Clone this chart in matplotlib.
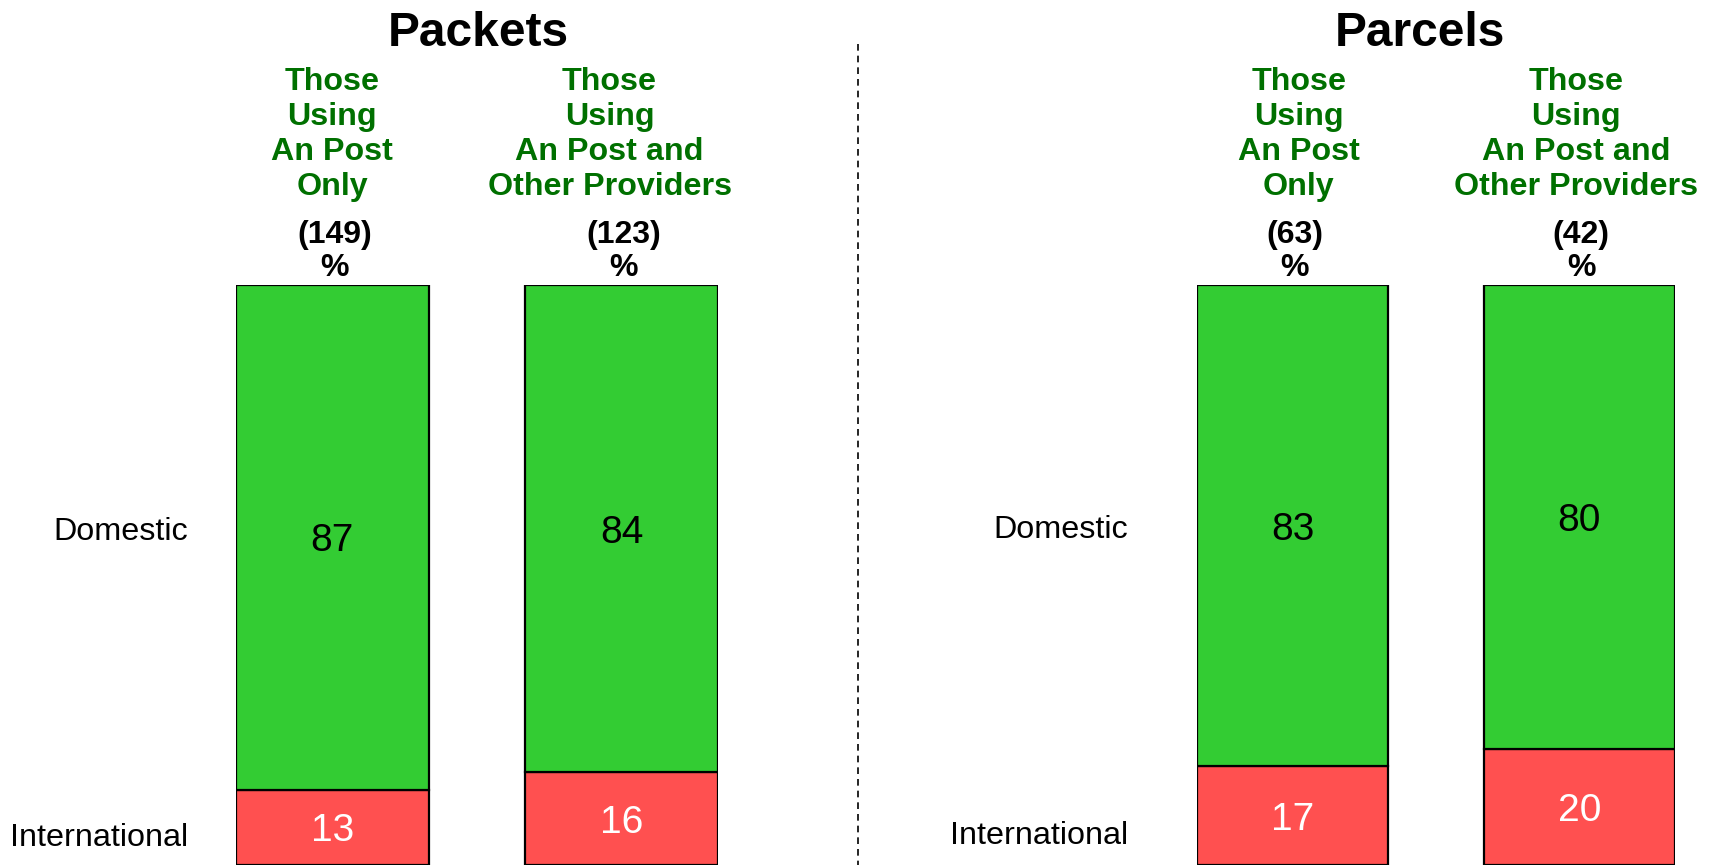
import matplotlib.pyplot as plt
import numpy as np

# data
panels = ['Packets', 'Parcels']
groups = ['Those\nUsing\nAn Post\nOnly', 'Those\nUsing\nAn Post and\nOther Providers']
bases = {'Packets': ['(149)', '(123)'], 'Parcels': ['(63)', '(42)']}
domestic = {'Packets': [87, 84], 'Parcels': [83, 80]}
international = {'Packets': [13, 16], 'Parcels': [17, 20]}
rows = ['Domestic', 'International']

W, H = 1717, 865
GREEN = '#33CC33'
RED = '#FF5050'
HEAD_GREEN = '#007000'

plt.rcParams['font.family'] = ['Liberation Sans', 'DejaVu Sans']

fig = plt.figure(figsize=(W / 100, H / 100), dpi=100)


def fx(x):
    return x / W


def fy(y):
    return 1 - y / H


# layout (pixels): axes left edge, axes width, title x, row label right edge
layout = {
    'Packets': dict(left=236, width=482, title_x=478, lab_x=188, lab_y=(528, 835),
                    head_dx=(0, -12)),
    'Parcels': dict(left=1197, width=478, title_x=1420, lab_x=1128, lab_y=(526, 833),
                    head_dx=(6, -3)),
}
bar_top = 285
bar_w = 0.667
x = np.arange(len(groups))

for p in panels:
    L = layout[p]
    ax = fig.add_axes([fx(L['left']), 0, L['width'] / W, (H - bar_top) / H])
    dom = np.array(domestic[p])
    intl = np.array(international[p])
    ax.bar(x, intl, width=bar_w, color=RED, edgecolor='black', linewidth=1.6)
    ax.bar(x, dom, bottom=intl, width=bar_w, color=GREEN, edgecolor='black', linewidth=1.6)
    for i in range(len(x)):
        ax.text(x[i], intl[i] / 2, str(intl[i]), ha='center', va='center_baseline',
                fontsize=28, color='white')
        ax.text(x[i], intl[i] + dom[i] / 2, str(dom[i]), ha='center', va='center_baseline',
                fontsize=28, color='black')
    ax.set_xlim(-0.5 * bar_w, len(x) - 1 + 0.5 * bar_w)
    ax.set_ylim(0, 100)
    ax.axis('off')

    # panel title
    fig.text(fx(L['title_x']), fy(29), p, ha='center', va='center_baseline',
             fontsize=34.5, fontweight='bold')

    # column headers and bases
    for i, g in enumerate(groups):
        cx_pix = L['left'] + (x[i] + 0.5 * bar_w) / (len(x) - 1 + bar_w) * L['width']
        for k, line in enumerate(g.split('\n')):
            fig.text(fx(cx_pix + L['head_dx'][i]), fy(79 + 34.7 * k), line, ha='center',
                     va='center_baseline', fontsize=23.2, fontweight='bold', color=HEAD_GREEN)
        fig.text(fx(cx_pix + 2), fy(231), bases[p][i], ha='center', va='center_baseline',
                 fontsize=23, fontweight='bold')
        fig.text(fx(cx_pix + 2), fy(265), '%', ha='center', va='center_baseline',
                 fontsize=23, fontweight='bold')

    # row labels
    for r, ly in zip(rows, L['lab_y']):
        fig.text(fx(L['lab_x']), fy(ly), r, ha='right', va='center_baseline', fontsize=23.3)

# dashed divider
fig.add_artist(plt.Line2D([fx(858), fx(858)], [fy(44), 0], color='black',
                          linestyle=(0, (4, 3)), linewidth=1.2))

fig.savefig('out.png', dpi=100)
